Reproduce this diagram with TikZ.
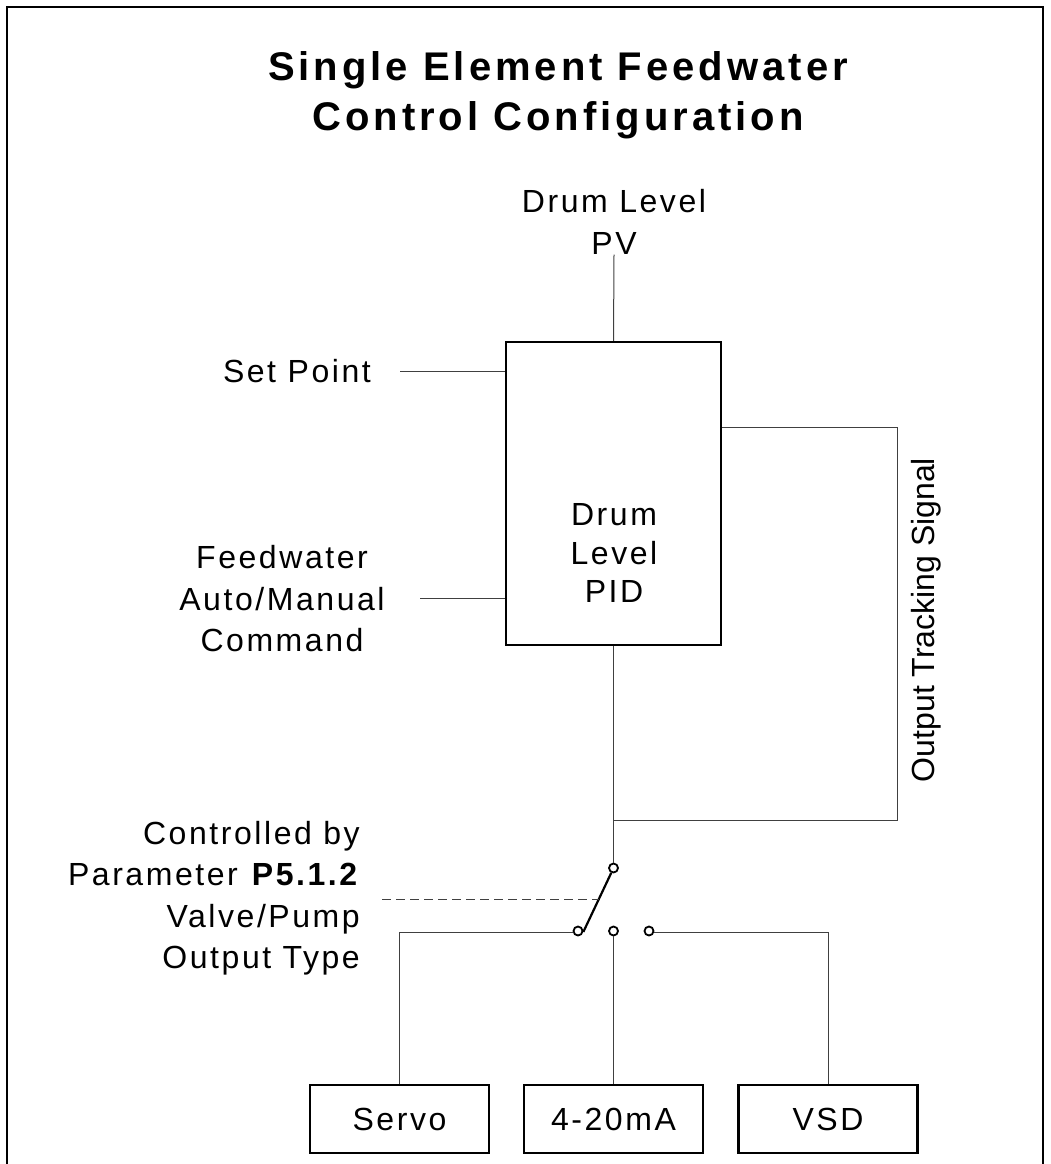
\documentclass[tikz,border=0pt]{standalone}
\usepackage{fontspec}
\setmainfont{Liberation Sans}
\newfontfamily\lab[LetterSpace=8]{Liberation Sans}
\newfontfamily\ttl[LetterSpace=10]{Liberation Sans}
\begin{document}
\begin{tikzpicture}[x=1pt,y=-1pt,
  lbl/.style={font=\lab\fontsize{32}{41.5}\selectfont, inner sep=0pt, align=center},
  ttlstyle/.style={font=\ttl\bfseries\fontsize{40}{50}\selectfont, inner sep=0pt, align=center},
  wire/.style={draw=black!75, line width=1pt},
  blk/.style={draw, line width=2.5pt, inner sep=0pt},
  outbox/.style={blk, minimum width=179pt, minimum height=68pt, font=\lab\fontsize{32}{41.5}\selectfont},
  term/.style={circle, draw, line width=1.8pt, minimum size=9pt, inner sep=0pt, fill=white},
]
\useasboundingbox (0,0) rectangle (1050,1164);
\draw[line width=2.5pt] (7,1164) -- (7,7) -- (1043,7) -- (1043,1164);

\node[ttlstyle] (title) at (558,95) {Single Element Feedwater\\Control Configuration};

\node[blk, minimum width=215pt, minimum height=303pt] (pid) at (613.5,493.5) {};
\node[lbl, font=\lab\fontsize{32}{38.5}\selectfont] (pidt) at (614,553) {Drum\\Level\\PID};
\node[lbl] (pv) at (614,222) {Drum Level\\PV};
\node[lbl, anchor=base east] (sp) at (371,382) {Set Point};
\node[lbl] (fw) at (282,599) {Feedwater\\Auto/Manual\\Command};
\node[lbl, align=right, anchor=east] (ctl) at (360,898) {Controlled by\\Parameter \textbf{P5.1.2}\\Valve/Pump\\Output Type};
\node[inner sep=0pt, font=\fontsize{32}{38}\selectfont, rotate=90] (ots) at (926,620) {Output Tracking Signal};

\node[outbox] (servo) at (399.5,1119) {Servo};
\node[outbox] (ma) at (613.5,1119) {4-20mA};
\node[outbox] (vsd) at (828,1119) {VSD};

\coordinate (spa) at (400,371);
\coordinate (fwa) at (420,598);
\coordinate (otr) at (897,427);
\coordinate (obr) at (897,820);
\coordinate (da) at (382,899);
\coordinate (db) at (599,899);

\draw[wire] (pv.south) -- (pid.north);
\draw[wire] (spa) -- (spa -| pid.west);
\draw[wire] (fwa) -- (fwa -| pid.west);
\draw[wire] (otr -| pid.east) -- (otr) -- (obr) -- (obr -| pid.south);

\node[term] (t0) at (613.5,868) {};
\node[term] (t1) at (578,931) {};
\node[term] (t2) at (613.5,931) {};
\node[term] (t3) at (649,931) {};

\draw[wire] (pid.south) -- (t0.north);
\draw[line width=2.2pt] (t0.-115) -- (t1.-10);
\draw[wire, dash pattern=on 9pt off 5pt] (da) -- (db);
\draw[wire] (t1.-160) -| (servo.north);
\draw[wire] (t2.south) -- (ma.north);
\draw[wire] (t3.-20) -| (vsd.north);
\end{tikzpicture}
\end{document}
